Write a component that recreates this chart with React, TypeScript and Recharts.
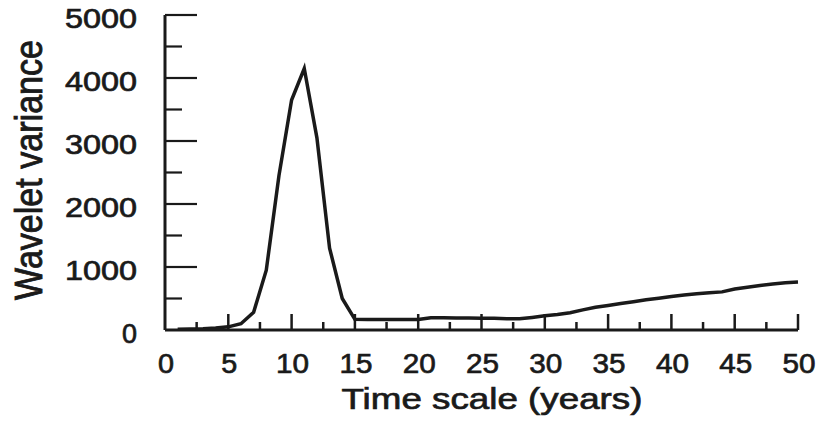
import React from 'react';
import { LineChart, Line, XAxis, YAxis, Label } from 'recharts';

const INK = '#1a1a1a';
const FONT = '"Liberation Sans", Arial, sans-serif';

// time scale (years)
const years = [
  1, 2, 3, 4, 5, 6, 7, 8, 9, 10,
  11, 12, 13, 14, 15, 16, 17, 18, 19, 20,
  21, 22, 23, 24, 25, 26, 27, 28, 29, 30,
  31, 32, 33, 34, 35, 36, 37, 38, 39, 40,
  41, 42, 43, 44, 45, 46, 47, 48, 49, 50,
];

// wavelet variance
const variance = [
  10, 15, 20, 30, 50, 100, 280, 950, 2450, 3650,
  4150, 3050, 1300, 500, 170, 165, 165, 165, 165, 165,
  195, 195, 192, 190, 188, 185, 178, 178, 200, 225,
  245, 275, 320, 360, 390, 420, 450, 480, 505, 530,
  555, 575, 590, 605, 650, 680, 705, 730, 750, 760,
];

const xTicks = [
  0, 2.5, 5, 7.5, 10, 12.5, 15, 17.5, 20, 22.5, 25,
  27.5, 30, 32.5, 35, 37.5, 40, 42.5, 45, 47.5, 50,
];
const yTicks = [0, 500, 1000, 1500, 2000, 2500, 3000, 3500, 4000, 4500, 5000];

const data = years.map((t, i) => ({ t, v: variance[i] }));

// heavier glyphs, like the scanned figure
const textStyle = {
  fontFamily: FONT,
  fill: INK,
  stroke: INK,
  strokeWidth: 0.7,
};

const XTick = (props: any) => {
  const { x, y, payload } = props;
  const v = payload.value;
  const major = v % 5 === 0;
  const s = String(v);
  return (
    <g>
      {v !== 0 && (
        <line x1={x} x2={x} y1={y} y2={y - (major ? 16 : 8)} stroke={INK} strokeWidth={2.5} />
      )}
      {major && (
        <text
          x={x + 1}
          y={y + 43}
          textAnchor="middle"
          fontSize={28}
          {...textStyle}
          textLength={s.length === 1 ? 16 : s.length * 16.5}
          lengthAdjust="spacingAndGlyphs"
        >
          {s}
        </text>
      )}
    </g>
  );
};

const YTick = (props: any) => {
  const { x, y, payload } = props;
  const v = payload.value;
  const major = v % 1000 === 0;
  const s = String(v);
  return (
    <g>
      {v !== 0 && (
        <line x1={x} x2={x + (major ? 32 : 17)} y1={y} y2={y} stroke={INK} strokeWidth={2.2} />
      )}
      {major && (
        <text
          x={x - 28}
          y={y + 13}
          textAnchor="end"
          fontSize={27}
          {...textStyle}
          textLength={s.length === 1 ? 15 : s.length * 18}
          lengthAdjust="spacingAndGlyphs"
        >
          {s}
        </text>
      )}
    </g>
  );
};

const XTitle = () => (
  <text
    x={492}
    y={409}
    textAnchor="middle"
    fontSize={29}
    {...textStyle}
    textLength={301}
    lengthAdjust="spacingAndGlyphs"
  >
    Time scale (years)
  </text>
);

const YTitle = () => (
  <g transform="translate(42,170) rotate(-90) scale(1,1.3)">
    <text
      x={0}
      y={0}
      textAnchor="middle"
      fontSize={30}
      {...textStyle}
      textLength={260}
      lengthAdjust="spacingAndGlyphs"
    >
      Wavelet variance
    </text>
  </g>
);

export default function App() {
  return (
    <div style={{ position: 'absolute', left: 0, top: 0, width: 823, height: 429, background: '#fff' }}>
      <LineChart width={823} height={429} data={data} margin={{ top: 15, right: 25, bottom: 39, left: 105 }}>
        <XAxis
          dataKey="t"
          type="number"
          domain={[0, 50]}
          ticks={xTicks}
          interval={0}
          height={60}
          tickSize={0}
          tickMargin={0}
          tickLine={false}
          tick={<XTick />}
          axisLine={{ stroke: INK, strokeWidth: 3 }}
        >
          <Label content={<XTitle />} />
        </XAxis>
        <YAxis
          type="number"
          domain={[0, 5000]}
          ticks={yTicks}
          interval={0}
          width={60}
          tickSize={0}
          tickMargin={0}
          tickLine={false}
          tick={<YTick />}
          axisLine={{ stroke: INK, strokeWidth: 3 }}
        >
          <Label content={<YTitle />} />
        </YAxis>
        <Line
          type="linear"
          dataKey="v"
          stroke={INK}
          strokeWidth={3.5}
          dot={false}
          isAnimationActive={false}
        />
      </LineChart>
    </div>
  );
}
